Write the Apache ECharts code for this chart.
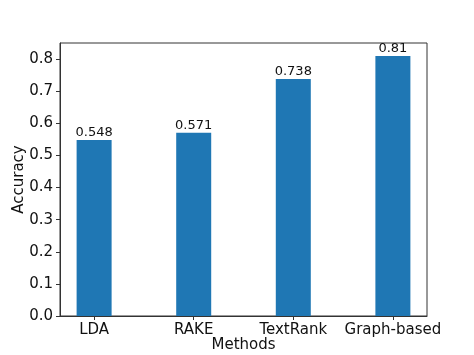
<!DOCTYPE html>
<html>
<head>
<meta charset="utf-8">
<script src="https://cdn.jsdelivr.net/npm/echarts@6/dist/echarts.min.js"></script>
<style>html,body{margin:0;padding:0;background:#fff}#c{width:474px;height:355px}</style>
</head>
<body>
<div id="c"></div>
<script>
const categories = ["LDA", "RAKE", "TextRank", "Graph-based"];
const accuracy = [0.548, 0.571, 0.738, 0.81];
const yTicks = [0.0, 0.1, 0.2, 0.3, 0.4, 0.5, 0.6, 0.7, 0.8];

const chart = echarts.init(document.getElementById('c'));
const FONT = 'DejaVu Sans';
const positions = categories.map((_, i) => i);
chart.setOption({
  animation: false,
  textStyle: { fontFamily: FONT },
  grid: { left: 60, right: 47, top: 43, bottom: 39, show: true, borderColor: '#333', borderWidth: 1,
    backgroundColor: '#fff', containLabel: false, outerBoundsMode: 'none' },
  xAxis: {
    type: 'value', min: -0.3425, max: 3.3425,
    name: 'Methods', nameLocation: 'middle', nameGap: 22, nameMoveOverlap: false,
    nameTextStyle: { fontSize: 15, color: '#111', fontFamily: FONT },
    axisLine: { show: true, onZero: false, lineStyle: { color: '#333' } },
    splitLine: { show: false },
    axisTick: { show: true, inside: false, length: 4, lineStyle: { color: '#333' }, customValues: positions },
    axisLabel: { color: '#111', fontSize: 15, fontFamily: FONT, margin: 7, customValues: positions,
      formatter: v => categories[Math.round(v)] }
  },
  yAxis: {
    type: 'value', min: 0, max: 0.8505,
    name: 'Accuracy', nameLocation: 'middle', nameGap: 33, nameRotate: 90, nameMoveOverlap: false,
    nameTextStyle: { fontSize: 15, color: '#111', fontFamily: FONT },
    axisLine: { show: true, onZero: false, lineStyle: { color: '#333' } },
    splitLine: { show: false },
    axisTick: { show: true, length: 4, lineStyle: { color: '#333' }, customValues: yTicks },
    axisLabel: { color: '#111', fontSize: 15, fontFamily: FONT, margin: 7, customValues: yTicks,
      formatter: v => v.toFixed(1) }
  },
  series: [{
    type: 'bar',
    data: accuracy.map((v, i) => [i, v]),
    barWidth: 35,
    itemStyle: { color: '#1f77b4' },
    label: { show: true, position: 'top', distance: 1, color: '#111', fontSize: 13, fontFamily: FONT,
      formatter: p => String(p.value[1]) }
  }]
});
</script>
</body>
</html>
